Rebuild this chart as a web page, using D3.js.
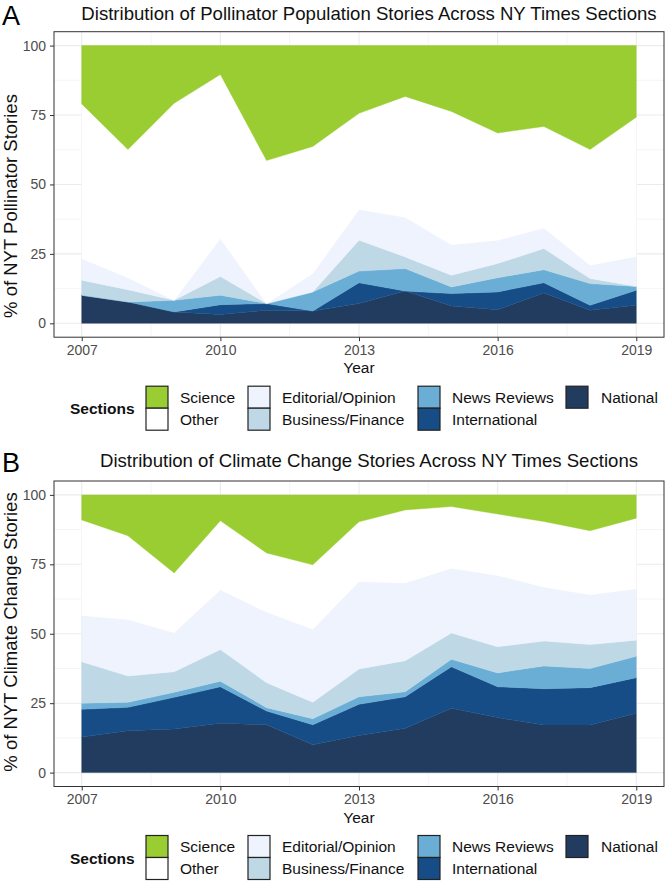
<!DOCTYPE html>
<html>
<head>
<meta charset="utf-8">
<script src="https://cdn.jsdelivr.net/npm/d3@7"></script>
<style>
	body { margin: 0; background: #fff; }
	svg { display: block; font-family: 'Liberation Sans', Arial, Helvetica, sans-serif; }
</style>
</head>
<body>
<div id="container"></div>
<script>
const years = [2007, 2008, 2009, 2010, 2011, 2012, 2013, 2014, 2015, 2016, 2017, 2018, 2019];
const yearTicks = [2007, 2010, 2013, 2016, 2019];
const pctTicks = [0, 25, 50, 75, 100];

// legend order (top of stack first)
const sections = ['Science', 'Other', 'Editorial/Opinion', 'Business/Finance', 'News Reviews', 'International', 'National'];
const sectionColors = ['#9acd32', '#ffffff', '#eef3fd', '#bed8e6', '#6aaed6', '#174d87', '#223c5f'];

// pollinator population stories, % per section
const pollScience = [21.0, 37.4, 20.8, 10.4, 41.4, 36.3, 24.4, 18.3, 23.7, 31.5, 29.1, 37.4, 25.8];
const pollOther = [55.7, 46.2, 70.9, 59.1, 51.5, 45.8, 34.6, 43.5, 48.0, 38.6, 36.6, 41.7, 50.1];
const pollEditorial = [7.8, 4.3, 0, 13.6, 0, 6.6, 11.1, 14.3, 11.0, 8.4, 7.4, 4.8, 10.8];
const pollBusiness = [5.4, 4.4, 0, 6.8, 0, 0, 11.1, 4.2, 4.2, 5.1, 7.6, 1.8, 0];
const pollNews = [0, 0, 4.2, 3.4, 0, 6.9, 4.2, 8.1, 2.4, 5.1, 4.7, 7.8, 1.4];
const pollInternational = [0, 0, 0, 3.5, 2.4, 0, 7.5, 0, 4.5, 6.4, 3.7, 1.8, 5.4];
const pollNational = [10.1, 7.7, 4.1, 3.2, 4.7, 4.4, 7.1, 11.6, 6.2, 4.9, 10.9, 4.7, 6.5];

// climate change stories, % per section
const climScience = [9.0, 14.7, 28.1, 9.3, 20.9, 25.2, 9.7, 5.4, 4.2, 6.9, 9.6, 12.9, 8.4];
const climOther = [34.4, 30.2, 21.5, 24.9, 21.3, 23.2, 21.5, 26.3, 22.2, 22.1, 23.6, 23.1, 25.4];
const climEditorial = [16.7, 20.3, 14.1, 21.5, 25.4, 26.3, 31.5, 28.0, 23.3, 25.7, 19.4, 17.9, 18.5];
const climBusiness = [14.9, 9.5, 7.4, 11.4, 9.0, 5.9, 10.0, 11.2, 9.5, 9.4, 9.0, 8.6, 5.8];
const climNews = [2.2, 1.8, 1.8, 2.0, 1.2, 2.2, 2.7, 1.8, 2.7, 5.0, 8.2, 6.9, 7.7];
const climInternational = [10.0, 8.4, 11.4, 13.1, 5.0, 7.2, 11.2, 11.3, 14.9, 11.1, 13.1, 13.5, 12.8];
const climNational = [12.8, 15.1, 15.7, 17.8, 17.2, 10.0, 13.4, 16.0, 23.2, 19.8, 17.1, 17.1, 21.4];

const width = 667;
const height = 883;

const svg = d3.select('div#container').append('svg')
	.attr('width', width)
	.attr('height', height);

const color = d3.scaleOrdinal().domain(sections).range(sectionColors);

function buildRows(series) {
	return years.map((yr, i) => {
		const row = { year: yr };
		sections.forEach((s, k) => { row[s] = series[k][i]; });
		return row;
	});
}

function drawPanel(opt) {
	const g = svg.append('g');
	const left = 54, right = 664;
	const top = opt.top, bottom = opt.top + 305.5;

	const x = d3.scaleLinear().domain([2006.4, 2019.6]).range([left, right]);
	const y = d3.scaleLinear().domain([-5, 105]).range([bottom, top]);

	// tag + title
	g.append('text')
		.attr('x', 2)
		.attr('y', opt.tagY)
		.style('font-size', '27px')
		.style('fill', '#000')
		.text(opt.tag);
	g.append('text')
		.attr('x', 369)
		.attr('y', opt.titleY)
		.attr('text-anchor', 'middle')
		.style('font-size', '18.6px')
		.style('fill', '#111')
		.text(opt.title);

	// grid
	const minorX = d3.range(2008.5, 2019, 3);
	const minorY = [12.5, 37.5, 62.5, 87.5];
	g.append('g').selectAll('line.mx').data(minorX).enter().append('line')
		.attr('x1', d => x(d)).attr('x2', d => x(d))
		.attr('y1', top).attr('y2', bottom)
		.attr('stroke', '#f2f2f2').attr('stroke-width', 0.8);
	g.append('g').selectAll('line.my').data(minorY).enter().append('line')
		.attr('x1', left).attr('x2', right)
		.attr('y1', d => y(d)).attr('y2', d => y(d))
		.attr('stroke', '#f2f2f2').attr('stroke-width', 0.8);
	g.append('g').selectAll('line.gx').data(yearTicks).enter().append('line')
		.attr('x1', d => x(d)).attr('x2', d => x(d))
		.attr('y1', top).attr('y2', bottom)
		.attr('stroke', '#ebebeb').attr('stroke-width', 1.1);
	g.append('g').selectAll('line.gy').data(pctTicks).enter().append('line')
		.attr('x1', left).attr('x2', right)
		.attr('y1', d => y(d)).attr('y2', d => y(d))
		.attr('stroke', '#ebebeb').attr('stroke-width', 1.1);

	// stacked areas, National at the bottom
	const rows = buildRows(opt.series);
	const stackKeys = sections.slice().reverse();
	const layers = d3.stack().keys(stackKeys)(rows);
	const area = d3.area()
		.x(d => x(d.data.year))
		.y0(d => y(d[0]))
		.y1(d => y(d[1]));

	g.append('g').selectAll('path').data(layers).enter().append('path')
		.attr('d', area)
		.attr('fill', d => color(d.key))
		.attr('stroke', d => color(d.key))
		.attr('stroke-width', 0.4);

	// panel border
	g.append('rect')
		.attr('x', left).attr('y', top)
		.attr('width', right - left).attr('height', bottom - top)
		.attr('fill', 'none')
		.attr('stroke', '#333')
		.attr('stroke-width', 1);

	// axes
	const xAxis = d3.axisBottom(x).tickValues(yearTicks).tickFormat(d3.format('d')).tickSize(4).tickPadding(4);
	const yAxis = d3.axisLeft(y).tickValues(pctTicks).tickSize(4).tickPadding(4);

	const gx = g.append('g').attr('transform', `translate(0,${bottom})`).call(xAxis);
	const gy = g.append('g').attr('transform', `translate(${left},0)`).call(yAxis);
	[gx, gy].forEach(a => {
		a.select('.domain').remove();
		a.selectAll('line').attr('stroke', '#333');
		a.selectAll('text').style('font-size', '14px').style('fill', '#4d4d4d').style('font-family', 'inherit');
	});

	g.append('text')
		.attr('x', 359)
		.attr('y', bottom + 36)
		.attr('text-anchor', 'middle')
		.style('font-size', '15.5px')
		.style('fill', '#111')
		.text('Year');

	g.append('text')
		.attr('transform', `translate(17,${opt.yTitleY}) rotate(-90)`)
		.attr('text-anchor', 'middle')
		.style('font-size', '18.5px')
		.style('fill', '#111')
		.text(opt.yTitle);

	// legend
	const legTop = bottom + 49;
	const key = 22;
	const colX = [146, 248, 418, 566];
	const textX = [180, 282, 452, 601];

	g.append('text')
		.attr('x', 70)
		.attr('y', legTop + key + 6)
		.style('font-size', '15.5px')
		.style('font-weight', 'bold')
		.style('fill', '#111')
		.text('Sections');

	const leg = g.append('g').selectAll('g').data(sections).enter().append('g')
		.attr('transform', (d, i) => `translate(0,${legTop + (i % 2) * key})`);
	leg.append('rect')
		.attr('x', (d, i) => colX[Math.floor(i / 2)])
		.attr('y', 0)
		.attr('width', key)
		.attr('height', key)
		.attr('fill', d => color(d))
		.attr('stroke', '#222')
		.attr('stroke-width', 1.2);
	leg.append('text')
		.attr('x', (d, i) => textX[Math.floor(i / 2)])
		.attr('y', key / 2 + 5.5)
		.style('font-size', '15.5px')
		.style('fill', '#111')
		.text(d => d);
}

drawPanel({
	tag: 'A',
	tagY: 25,
	titleY: 19.5,
	top: 31.7,
	title: 'Distribution of Pollinator Population Stories Across NY Times Sections',
	yTitle: '% of NYT Pollinator Stories',
	yTitleY: 206,
	series: [pollScience, pollOther, pollEditorial, pollBusiness, pollNews, pollInternational, pollNational],
});

drawPanel({
	tag: 'B',
	tagY: 472,
	titleY: 467,
	top: 481,
	title: 'Distribution of Climate Change Stories Across NY Times Sections',
	yTitle: '% of NYT Climate Change Stories',
	yTitleY: 632,
	series: [climScience, climOther, climEditorial, climBusiness, climNews, climInternational, climNational],
});
</script>
</body>
</html>
